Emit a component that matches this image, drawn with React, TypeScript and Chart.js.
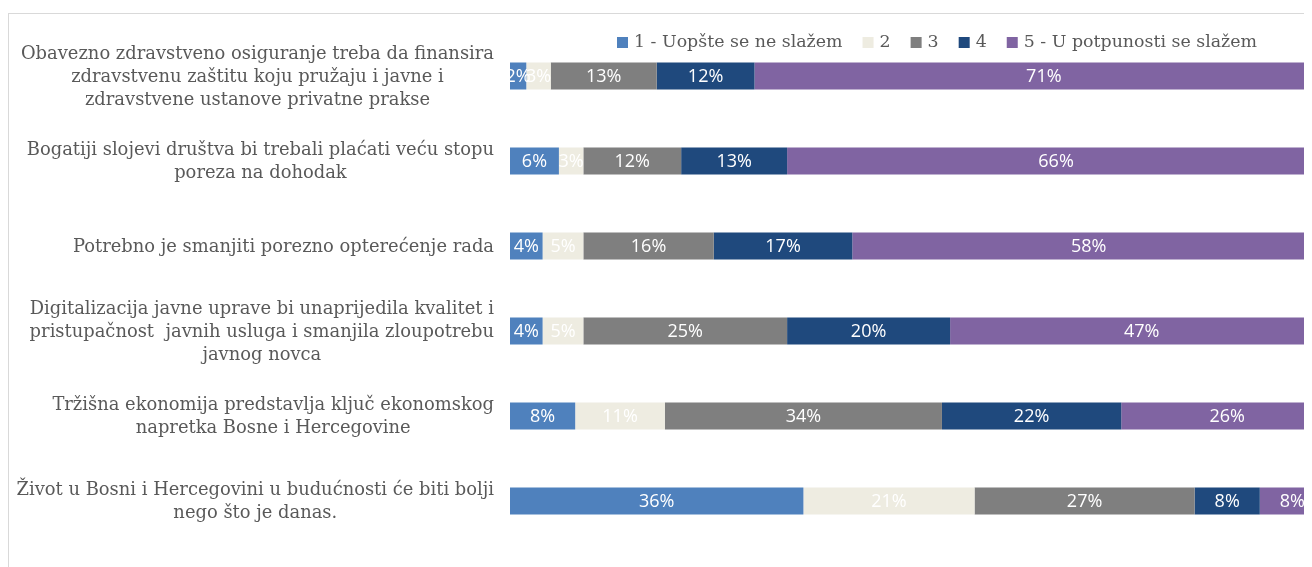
import React, { useEffect, useRef } from "react";
import { Chart, registerables } from "chart.js";

Chart.register(...registerables);

const categories: string[][] = [
  ["Obavezno zdravstveno osiguranje treba da finansira", "zdravstvenu zaštitu koju pružaju i javne i", "zdravstvene ustanove privatne prakse"],
  ["Bogatiji slojevi društva bi trebali plaćati veću stopu", "poreza na dohodak"],
  ["Potrebno je smanjiti porezno opterećenje rada"],
  ["Digitalizacija javne uprave bi unaprijedila kvalitet i", "pristupačnost  javnih usluga i smanjila zloupotrebu", "javnog novca"],
  ["Tržišna ekonomija predstavlja ključ ekonomskog", "napretka Bosne i Hercegovine"],
  ["Život u Bosni i Hercegovini u budućnosti će biti bolji", "nego što je danas."],
];

const seriesNames = ["1 - Uopšte se ne slažem", "2", "3", "4", "5 - U potpunosti se slažem"];
const series1 = [2, 6, 4, 4, 8, 36];
const series2 = [3, 3, 5, 5, 11, 21];
const series3 = [13, 12, 16, 25, 34, 27];
const series4 = [12, 13, 17, 20, 22, 8];
const series5 = [71, 66, 58, 47, 26, 8];
const seriesColors = ["#4F81BD", "#EEECE1", "#7F7F7F", "#1F497D", "#8064A2"];

const LABEL_FONT = '17.9px "DejaVu Serif"';
const LEGEND_FONT = '17.4px "DejaVu Serif"';
const VALUE_FONT = '18px "Open Sans"';
const TEXT_COLOR = "#595959";

const leftLabels = {
  id: "leftLabels",
  afterDraw(chart: any) {
    const ctx = chart.ctx;
    const yScale = chart.scales.y;
    const right = chart.chartArea.left - 16;
    const lineH = 23;
    ctx.save();
    ctx.font = LABEL_FONT;
    ctx.fillStyle = TEXT_COLOR;
    ctx.textAlign = "center";
    ctx.textBaseline = "middle";
    categories.forEach((lines, i) => {
      const yc = yScale.getPixelForValue(i) + 1;
      const maxW = Math.max(...lines.map((l) => ctx.measureText(l).width));
      const cx = right - maxW / 2;
      lines.forEach((l, j) => {
        ctx.fillText(l, cx, yc + (j - (lines.length - 1) / 2) * lineH);
      });
    });
    ctx.restore();
  },
};

const valueLabels = {
  id: "valueLabels",
  afterDatasetsDraw(chart: any) {
    const ctx = chart.ctx;
    ctx.save();
    ctx.font = VALUE_FONT;
    ctx.fillStyle = "#FFFFFF";
    ctx.textAlign = "center";
    ctx.textBaseline = "middle";
    chart.data.datasets.forEach((ds: any, i: number) => {
      const meta = chart.getDatasetMeta(i);
      meta.data.forEach((bar: any, j: number) => {
        const p = bar.getProps(["x", "y", "base"], true);
        ctx.fillText(ds.data[j] + "%", (p.x + p.base) / 2, p.y + 1);
      });
    });
    ctx.restore();
  },
};

const topLegend = {
  id: "topLegend",
  afterDraw(chart: any) {
    const ctx = chart.ctx;
    ctx.save();
    ctx.font = LEGEND_FONT;
    ctx.textBaseline = "middle";
    ctx.textAlign = "left";
    let x = chart.chartArea.left + 107;
    const y = 28.5;
    chart.data.datasets.forEach((ds: any) => {
      ctx.fillStyle = ds.backgroundColor;
      ctx.fillRect(x, y - 5.5, 11, 11);
      x += 17;
      ctx.fillStyle = TEXT_COLOR;
      ctx.fillText(ds.label, x, y);
      x += ctx.measureText(ds.label).width + 20;
    });
    ctx.restore();
  },
};

export default function App() {
  const ref = useRef<HTMLCanvasElement | null>(null);
  useEffect(() => {
    document.body.style.overflow = "hidden";
    document.documentElement.style.overflow = "hidden";
    const values = [series1, series2, series3, series4, series5];
    const chart = new Chart(ref.current as HTMLCanvasElement, {
      type: "bar",
      data: {
        labels: categories.map((c) => c.join(" ")),
        datasets: values.map((v, i) => ({
          label: seriesNames[i],
          data: v,
          backgroundColor: seriesColors[i],
          borderWidth: 0,
          barPercentage: 0.315,
          categoryPercentage: 1,
        })),
      },
      options: {
        indexAxis: "y",
        responsive: false,
        animation: false,
        layout: { padding: { left: 501, right: 14, top: 19.5, bottom: 23.5 } },
        plugins: { legend: { display: false }, tooltip: { enabled: false } },
        scales: {
          x: { stacked: true, min: 0, max: 100, display: false },
          y: { stacked: true, display: false },
        },
      },
      plugins: [leftLabels, valueLabels, topLegend],
    });
    return () => chart.destroy();
  }, []);
  return (
    <div style={{ width: 1400, height: 559, overflow: "hidden" }}>
      <div
        style={{
          marginTop: 5,
          borderTop: "1px solid #D9D9D9",
          borderLeft: "1px solid #D9D9D9",
          width: 1331,
          height: 560,
        }}
      >
        <canvas ref={ref} width={1330} height={553} style={{ display: "block" }} />
      </div>
    </div>
  );
}
